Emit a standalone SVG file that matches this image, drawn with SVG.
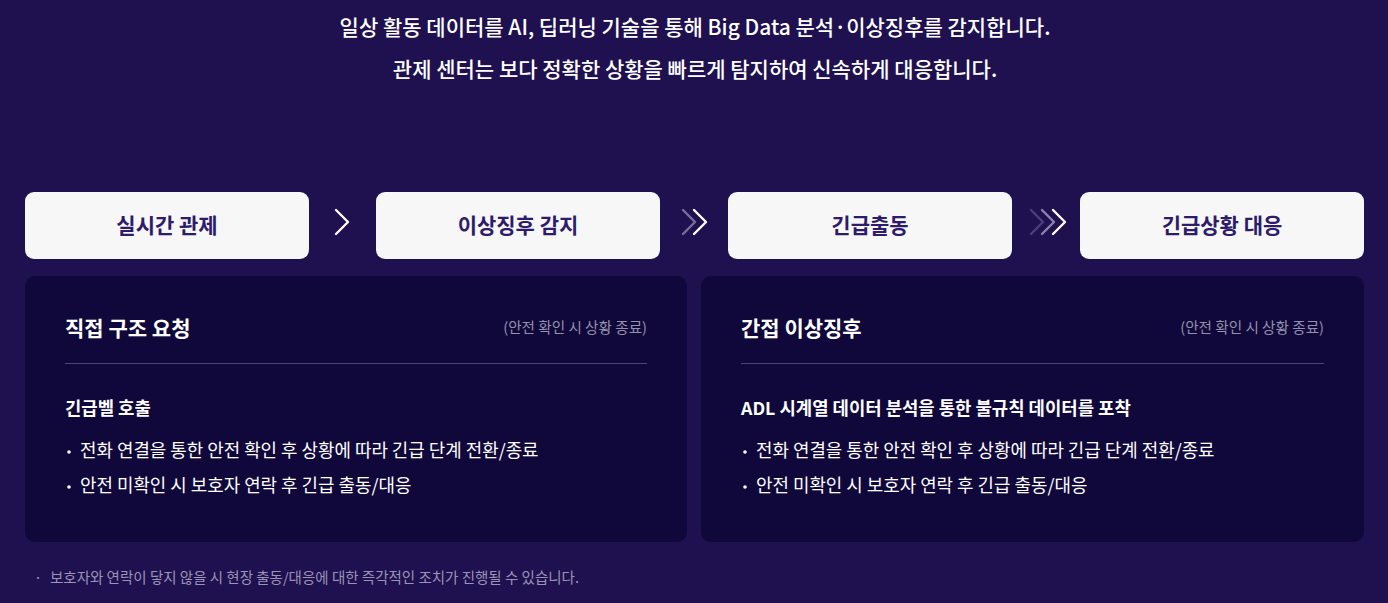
<svg xmlns="http://www.w3.org/2000/svg" width="1388" height="603" viewBox="0 0 1388 603">
<defs>
<style>
text{font-family:"Noto Sans CJK KR","Noto Sans",sans-serif;}
.hd{fill:#ffffff;font-size:21px;font-weight:500;text-anchor:middle;}
.step rect{fill:#f7f7f7;}
.step text{fill:#2d1b6b;font-size:21px;font-weight:700;text-anchor:middle;}
.panel rect{fill:#10083b;}
.ttl{fill:#ffffff;font-size:21px;font-weight:700;}
.sub{fill:#9591ad;font-size:14.6px;text-anchor:end;}
.h2{fill:#ffffff;font-size:17.8px;font-weight:700;}
.li{fill:#ffffff;font-size:17.9px;}
.sep{stroke:#4a4470;stroke-width:1;}
.chev{fill:none;stroke-width:2.4;stroke-linecap:round;stroke-linejoin:round;}
.foot{fill:#9a95b5;font-size:14.5px;}
</style>
</defs>
<rect x="0" y="0" width="1388" height="603" fill="#1f1050"/>
<text class="hd" x="695" y="35">일상 활동 데이터를 AI, 딥러닝 기술을 통해 Big Data 분석·이상징후를 감지합니다.</text>
<text class="hd" x="695" y="77">관제 센터는 보다 정확한 상황을 빠르게 탐지하여 신속하게 대응합니다.</text>

<g id="step1" class="step"><rect x="25" y="192" width="284" height="67" rx="9"/><text x="167" y="233">실시간 관제</text></g>
<g id="step2" class="step"><rect x="376" y="192" width="284" height="67" rx="9"/><text x="518" y="233">이상징후 감지</text></g>
<g id="step3" class="step"><rect x="728" y="192" width="284" height="67" rx="9"/><text x="870" y="233">긴급출동</text></g>
<g id="step4" class="step"><rect x="1080" y="192" width="284" height="67" rx="9"/><text x="1222" y="233">긴급상황 대응</text></g>

<g id="connectors">
<polyline class="chev" stroke="#ffffff" points="336,210 348,222 336,234"/>
<polyline class="chev" stroke="#77709a" points="683,210 695,222 683,234"/>
<polyline class="chev" stroke="#ffffff" points="694,210 706,222 694,234"/>
<polyline class="chev" stroke="#4c3f7e" points="1031,210 1043,222 1031,234"/>
<polyline class="chev" stroke="#8a83ab" points="1042,210 1054,222 1042,234"/>
<polyline class="chev" stroke="#ffffff" points="1053,210 1065,222 1053,234"/>
</g>

<g id="panel1" class="panel">
<rect x="25" y="276" width="662" height="266" rx="10"/>
<text class="ttl" x="65" y="336">직접 구조 요청</text>
<text class="sub" x="647" y="333">(안전 확인 시 상황 종료)</text>
<line class="sep" x1="65" y1="363.5" x2="647" y2="363.5"/>
<text class="h2" x="65" y="415">긴급벨 호출</text>
<circle cx="69" cy="452" r="1.8" fill="#ffffff"/>
<text class="li" x="80" y="457">전화 연결을 통한 안전 확인 후 상황에 따라 긴급 단계 전환/종료</text>
<circle cx="69" cy="487" r="1.8" fill="#ffffff"/>
<text class="li" x="80" y="492">안전 미확인 시 보호자 연락 후 긴급 출동/대응</text>
</g>

<g id="panel2" class="panel">
<rect x="701" y="276" width="663" height="266" rx="10"/>
<text class="ttl" x="741" y="336">간접 이상징후</text>
<text class="sub" x="1324" y="333">(안전 확인 시 상황 종료)</text>
<line class="sep" x1="741" y1="363.5" x2="1324" y2="363.5"/>
<text class="h2" x="741" y="415">ADL 시계열 데이터 분석을 통한 불규칙 데이터를 포착</text>
<circle cx="745" cy="452" r="1.8" fill="#ffffff"/>
<text class="li" x="756" y="457">전화 연결을 통한 안전 확인 후 상황에 따라 긴급 단계 전환/종료</text>
<circle cx="745" cy="487" r="1.8" fill="#ffffff"/>
<text class="li" x="756" y="492">안전 미확인 시 보호자 연락 후 긴급 출동/대응</text>
</g>

<text class="foot" x="34" y="583">·</text>
<text class="foot" x="50" y="583">보호자와 연락이 닿지 않을 시 현장 출동/대응에 대한 즉각적인 조치가 진행될 수 있습니다.</text>
</svg>
